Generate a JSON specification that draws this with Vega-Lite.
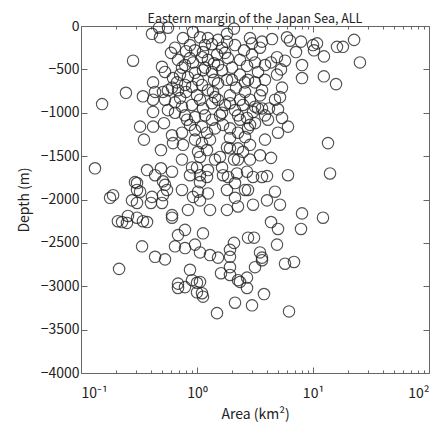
{
  "$schema": "https://vega.github.io/schema/vega-lite/v6.json",
  "autosize": "none",
  "padding": {"left": 81, "top": 26, "right": 9, "bottom": 54},
  "width": 348,
  "height": 347,
  "title": {"text": "Eastern margin of the Japan Sea, ALL", "fontSize": 12.5, "fontWeight": "normal", "color": "#222", "offset": -6, "anchor": "middle"},
  "config": {
    "font": "Noto Sans CJK JP",
    "view": {"stroke": "#666", "strokeWidth": 1},
    "axis": {"grid": false, "domain": false, "labelColor": "#222", "titleColor": "#222", "tickColor": "#666", "labelFontSize": 14, "titleFontSize": 14, "titleFontWeight": "normal"}
  },
  "data": {"values": [
    {"area":0.409,"depth":-90},{"area":0.470,"depth":-20},{"area":0.562,"depth":-20},{"area":0.480,"depth":-130},{"area":0.281,"depth":-400},
    {"area":0.597,"depth":-310},{"area":0.757,"depth":-140},{"area":0.924,"depth":-70},{"area":1.061,"depth":-130},{"area":1.243,"depth":-140},
    {"area":1.347,"depth":-210},{"area":1.517,"depth":-160},{"area":1.814,"depth":-90},{"area":2.084,"depth":-30},{"area":1.814,"depth":-180},
    {"area":0.804,"depth":-290},{"area":0.961,"depth":-280},{"area":1.126,"depth":-300},{"area":0.499,"depth":-470},{"area":0.530,"depth":-530},
    {"area":0.924,"depth":-420},{"area":1.104,"depth":-360},{"area":1.243,"depth":-390},{"area":1.487,"depth":-330},{"area":1.744,"depth":-310},
    {"area":0.621,"depth":-600},{"area":0.714,"depth":-560},{"area":0.672,"depth":-650},{"area":0.609,"depth":-710},{"area":0.418,"depth":-650},
    {"area":0.435,"depth":-760},{"area":0.342,"depth":-810},{"area":0.244,"depth":-770},{"area":0.152,"depth":-900},{"area":0.509,"depth":-760},
    {"area":0.562,"depth":-740},{"area":0.686,"depth":-740},{"area":0.836,"depth":-590},{"area":0.961,"depth":-540},{"area":1.126,"depth":-510},
    {"area":1.347,"depth":-530},{"area":1.643,"depth":-510},{"area":0.906,"depth":-700},{"area":1.104,"depth":-680},{"area":1.243,"depth":-740},
    {"area":1.517,"depth":-660},{"area":1.814,"depth":-620},{"area":2.864,"depth":-140},{"area":2.98,"depth":-200},{"area":3.634,"depth":-180},
    {"area":4.432,"depth":-150},{"area":5.969,"depth":-130},{"area":6.336,"depth":-170},{"area":7.881,"depth":-180},{"area":10,"depth":-220},
    {"area":10.83,"depth":-200},{"area":10.2,"depth":-280},{"area":12.43,"depth":-350},{"area":16.1,"depth":-240},{"area":18.1,"depth":-240},
    {"area":22.6,"depth":-160},{"area":25.4,"depth":-420},{"area":7.137,"depth":-300},{"area":8.04,"depth":-450},{"area":8.04,"depth":-600},
    {"area":12.4,"depth":-580},{"area":15.8,"depth":-670},{"area":2.98,"depth":-330},{"area":3.357,"depth":-530},{"area":4.345,"depth":-420},
    {"area":4.894,"depth":-360},{"area":5.737,"depth":-400},{"area":5.299,"depth":-500},{"area":4.894,"depth":-560},{"area":2.593,"depth":-650},
    {"area":3.163,"depth":-650},{"area":2.593,"depth":-760},{"area":5.405,"depth":-710},{"area":5.194,"depth":-820},{"area":4.704,"depth":-850},
    {"area":2.126,"depth":-220},{"area":2.348,"depth":-390},{"area":2.003,"depth":-480},{"area":1.402,"depth":-430},{"area":0.870,"depth":-220},
    {"area":2.168,"depth":-710},{"area":3.634,"depth":-740},{"area":3.857,"depth":-450},{"area":2.348,"depth":-560},{"area":1.925,"depth":-800},
    {"area":0.646,"depth":-880},{"area":0.742,"depth":-930},{"area":0.646,"depth":-1000},{"area":0.788,"depth":-1030},{"area":0.418,"depth":-850},
    {"area":0.418,"depth":-990},{"area":0.906,"depth":-910},{"area":1.061,"depth":-850},{"area":1.126,"depth":-950},{"area":1.347,"depth":-890},
    {"area":1.517,"depth":-850},{"area":1.744,"depth":-910},{"area":0.961,"depth":-1050},{"area":1.172,"depth":-1030},{"area":1.347,"depth":-1080},
    {"area":1.643,"depth":-1000},{"area":0.323,"depth":-1160},{"area":0.418,"depth":-1160},{"area":0.519,"depth":-1120},{"area":0.609,"depth":-1260},
    {"area":0.742,"depth":-1230},{"area":0.621,"depth":-1350},{"area":0.757,"depth":-1370},{"area":1.104,"depth":-1160},{"area":1.219,"depth":-1230},
    {"area":1.43,"depth":-1180},{"area":1.676,"depth":-1140},{"area":1.104,"depth":-1350},{"area":1.02,"depth":-1450},{"area":1.219,"depth":-1430},
    {"area":1.061,"depth":-1510},{"area":1.578,"depth":-1510},{"area":1.814,"depth":-1400},{"area":0.132,"depth":-1640},{"area":0.371,"depth":-1660},
    {"area":0.435,"depth":-1720},{"area":0.489,"depth":-1640},{"area":0.609,"depth":-1680},{"area":0.509,"depth":-1790},{"area":0.906,"depth":-1630},
    {"area":1.0,"depth":-1630},{"area":0.870,"depth":-1720},{"area":1.061,"depth":-1720},{"area":1.643,"depth":-1630},{"area":1.676,"depth":-1720},
    {"area":0.304,"depth":-1810},{"area":0.530,"depth":-1830},{"area":1.243,"depth":-1660},{"area":1.219,"depth":-1740},{"area":1.061,"depth":-1800},
    {"area":1.925,"depth":-890},{"area":2.126,"depth":-970},{"area":2.256,"depth":-1030},{"area":3.163,"depth":-930},{"area":3.357,"depth":-950},
    {"area":3.634,"depth":-950},{"area":3.04,"depth":-990},{"area":4.992,"depth":-960},{"area":5.405,"depth":-1060},{"area":4.093,"depth":-1080},
    {"area":2.864,"depth":-1140},{"area":2.752,"depth":-1180},{"area":3.163,"depth":-1120},{"area":6.089,"depth":-1160},{"area":4.992,"depth":-1230},
    {"area":1.925,"depth":-1180},{"area":2.256,"depth":-1230},{"area":2.593,"depth":-1280},{"area":13.47,"depth":-1350},{"area":1.925,"depth":-1410},
    {"area":2.256,"depth":-1410},{"area":2.492,"depth":-1450},{"area":3.493,"depth":-1490},{"area":4.345,"depth":-1520},{"area":2.864,"depth":-1540},
    {"area":2.256,"depth":-1540},{"area":14.02,"depth":-1700},{"area":6.089,"depth":-1720},{"area":4.013,"depth":-1730},{"area":3.04,"depth":-1740},
    {"area":2.212,"depth":-1700},{"area":1.85,"depth":-1740},{"area":2.126,"depth":-1810},{"area":2.698,"depth":-1680},{"area":3.634,"depth":-1740},
    {"area":0.292,"depth":-1800},{"area":0.178,"depth":-1980},{"area":0.189,"depth":-1950},{"area":0.275,"depth":-2010},{"area":0.304,"depth":-2040},
    {"area":0.304,"depth":-1890},{"area":0.323,"depth":-1910},{"area":0.409,"depth":-1970},{"area":0.401,"depth":-2040},{"area":0.509,"depth":-1950},
    {"area":0.551,"depth":-1890},{"area":0.499,"depth":-2040},{"area":0.609,"depth":-2180},{"area":0.609,"depth":-2210},{"area":0.742,"depth":-1890},
    {"area":0.836,"depth":-2120},{"area":0.924,"depth":-1970},{"area":1.061,"depth":-2010},{"area":1.243,"depth":-1930},{"area":1.02,"depth":-1910},
    {"area":0.208,"depth":-2250},{"area":0.226,"depth":-2260},{"area":0.249,"depth":-2270},{"area":0.254,"depth":-2190},{"area":0.304,"depth":-2210},
    {"area":0.342,"depth":-2250},{"area":0.371,"depth":-2260},{"area":0.336,"depth":-2540},{"area":0.435,"depth":-2660},{"area":0.530,"depth":-2690},
    {"area":0.686,"depth":-2410},{"area":0.788,"depth":-2350},{"area":0.646,"depth":-2540},{"area":0.788,"depth":-2560},{"area":0.961,"depth":-2520},
    {"area":1.061,"depth":-2610},{"area":1.294,"depth":-2640},{"area":1.517,"depth":-2670},{"area":1.126,"depth":-2390},{"area":1.814,"depth":-2120},
    {"area":1.814,"depth":-1890},{"area":2.126,"depth":-1980},{"area":2.752,"depth":-1890},{"area":2.256,"depth":-2080},{"area":3.04,"depth":-2060},
    {"area":4.013,"depth":-2010},{"area":4.704,"depth":-1910},{"area":5.194,"depth":-2060},{"area":8.04,"depth":-2160},{"area":12.19,"depth":-2210},
    {"area":7.881,"depth":-2340},{"area":4.345,"depth":-2260},{"area":4.992,"depth":-2340},{"area":2.752,"depth":-2440},{"area":3.101,"depth":-2440},
    {"area":4.894,"depth":-2520},{"area":2.084,"depth":-2500},{"area":1.925,"depth":-2580},{"area":1.925,"depth":-2660},{"area":3.493,"depth":-2610},
    {"area":3.634,"depth":-2670},{"area":5.737,"depth":-2740},{"area":6.859,"depth":-2720},{"area":0.213,"depth":-2800},{"area":0.870,"depth":-2810},
    {"area":0.686,"depth":-2970},{"area":0.686,"depth":-3020},{"area":0.788,"depth":-3010},{"area":0.906,"depth":-2930},{"area":1.0,"depth":-2960},
    {"area":1.061,"depth":-2950},{"area":1.104,"depth":-3080},{"area":1.126,"depth":-3120},{"area":1.0,"depth":-3070},{"area":1.487,"depth":-3310},
    {"area":1.611,"depth":-2850},{"area":1.925,"depth":-2780},{"area":1.925,"depth":-2870},{"area":2.256,"depth":-2930},{"area":2.348,"depth":-2950},
    {"area":2.698,"depth":-3020},{"area":2.698,"depth":-2900},{"area":2.126,"depth":-3190},{"area":2.98,"depth":-3220},{"area":3.163,"depth":-2780},
    {"area":3.634,"depth":-2700},{"area":3.781,"depth":-3090},{"area":6.211,"depth":-3290},
    {"area":0.686,"depth":-390},{"area":0.788,"depth":-450},{"area":1.02,"depth":-620},{"area":1.374,"depth":-760},{"area":1.578,"depth":-1030},
    {"area":2.492,"depth":-910},{"area":2.698,"depth":-1060},{"area":0.870,"depth":-1140},{"area":1.294,"depth":-1310},{"area":2.084,"depth":-1540},
    {"area":0.961,"depth":-1310},{"area":3.857,"depth":-1310},{"area":3.493,"depth":-800},{"area":2.864,"depth":-850},{"area":4.176,"depth":-950},
    {"area":1.172,"depth":-480},{"area":2.698,"depth":-460},{"area":0.714,"depth":-830},{"area":0.562,"depth":-970},{"area":0.804,"depth":-760},
    {"area":0.646,"depth":-250},{"area":1.172,"depth":-220},{"area":1.643,"depth":-250},{"area":2.542,"depth":-280},{"area":3.493,"depth":-250},
    {"area":0.870,"depth":-370},{"area":1.85,"depth":-370},{"area":3.163,"depth":-420},{"area":0.742,"depth":-480},{"area":1.517,"depth":-450},
    {"area":2.752,"depth":-620},{"area":3.857,"depth":-620},{"area":0.788,"depth":-680},{"area":2.003,"depth":-620},{"area":1.402,"depth":-620},
    {"area":1.0,"depth":-800},{"area":1.43,"depth":-820},{"area":2.348,"depth":-850},{"area":0.530,"depth":-850},{"area":0.82,"depth":-1080},
    {"area":2.348,"depth":-1080},{"area":3.857,"depth":-1030},{"area":0.961,"depth":-1200},{"area":1.925,"depth":-1290},{"area":2.864,"depth":-1370},
    {"area":1.43,"depth":-1540},{"area":0.742,"depth":-1540},{"area":2.593,"depth":-1890},{"area":1.294,"depth":-2120},{"area":0.489,"depth":-1430},
    {"area":0.349,"depth":-1310}
  ]},
  "resolve": {"axis": {"x": "independent", "y": "independent"}},
  "layer": [
    {
      "mark": {"type": "point", "shape": "circle", "filled": false, "size": 130, "stroke": "#222", "strokeWidth": 1.15, "opacity": 0.78},
      "encoding": {
        "x": {"field": "area", "type": "quantitative", "scale": {"type": "log", "domain": [0.1, 100], "nice": false},
          "axis": {"orient": "bottom", "values": [0.1, 1, 10, 100], "tickSize": -6, "labelPadding": 19,
            "labelExpr": "datum.value < 0.5 ? '10⁻¹' : datum.value < 5 ? '10⁰' : datum.value < 50 ? '10¹' : '10²'",
            "title": "Area (km²)", "titlePadding": 7}},
        "y": {"field": "depth", "type": "quantitative", "scale": {"domain": [-4000, 0], "nice": false},
          "axis": {"orient": "left", "values": [-4000, -3500, -3000, -2500, -2000, -1500, -1000, -500, 0], "format": "d", "tickSize": -6, "labelPadding": 8,
            "title": "Depth (m)", "titlePadding": 9}}
      }
    },
    {
      "mark": {"type": "point", "opacity": 0},
      "encoding": {
        "x": {"field": "area", "type": "quantitative",
          "axis": {"orient": "bottom", "values": [0.2,0.3,0.4,0.5,0.6,0.7,0.8,0.9,2,3,4,5,6,7,8,9,20,30,40,50,60,70,80,90], "tickSize": -3, "labels": false, "title": null}},
        "y": {"field": "depth", "type": "quantitative",
          "axis": {"orient": "right", "values": [-4000, -3500, -3000, -2500, -2000, -1500, -1000, -500, 0], "tickSize": -6, "labels": false, "title": null}}
      }
    },
    {
      "mark": {"type": "point", "opacity": 0},
      "encoding": {
        "x": {"field": "area", "type": "quantitative",
          "axis": {"orient": "top", "values": [0.1, 1, 10, 100], "tickSize": -6, "labels": false, "title": null}},
        "y": {"field": "depth", "type": "quantitative", "axis": null}
      }
    },
    {
      "mark": {"type": "point", "opacity": 0},
      "encoding": {
        "x": {"field": "area", "type": "quantitative",
          "axis": {"orient": "top", "values": [0.2,0.3,0.4,0.5,0.6,0.7,0.8,0.9,2,3,4,5,6,7,8,9,20,30,40,50,60,70,80,90], "tickSize": -3, "labels": false, "title": null}},
        "y": {"field": "depth", "type": "quantitative", "axis": null}
      }
    }
  ]
}
